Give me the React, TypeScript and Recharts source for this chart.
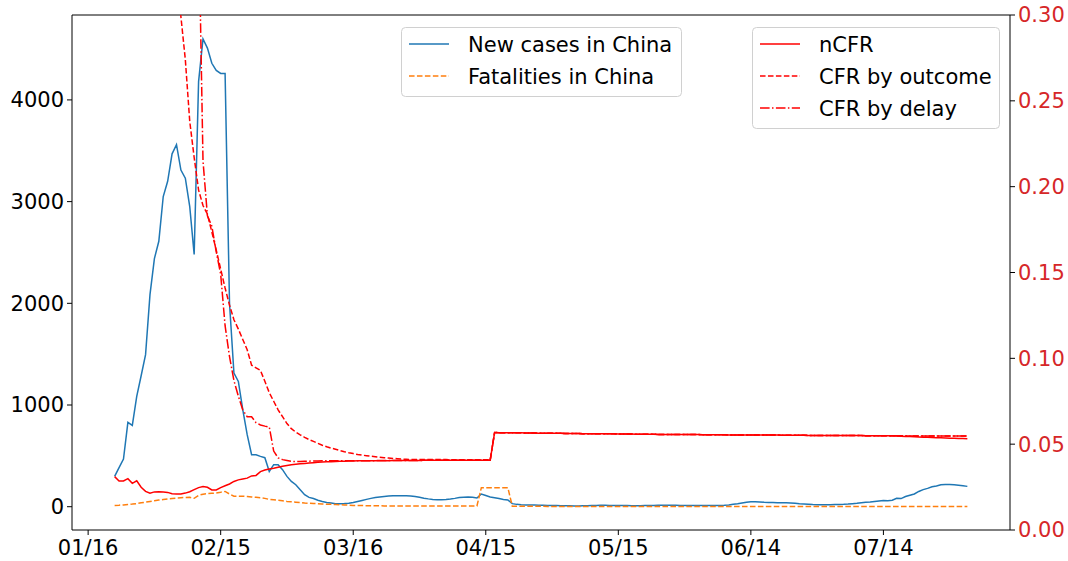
import { LineChart, Line, XAxis, YAxis, ReferenceLine } from "recharts";

const FONT = "'DejaVu Sans', sans-serif";
const FS = 21;

// x = days after 01/22 (first data point)
const xTickDays = [-6, 24, 54, 84, 114, 144, 174];
const xTickLabels = ["01/16", "02/15", "03/16", "04/15", "05/15", "06/14", "07/14"];
const leftTicks = [0, 1000, 2000, 3000, 4000];
const rightTicks = [0, 0.05, 0.1, 0.15, 0.2, 0.25, 0.3];

// New cases in China (daily, 01/22 .. 08/02)
const cases = [
  298, 385, 469, 829, 800, 1085, 1288, 1495, 2085, 2440,
  2610, 3050, 3200, 3470, 3560, 3310, 3230, 2950, 2480, 4180,
  4600, 4510, 4360, 4290, 4260, 4260, 2000, 1315, 1232, 954,
  708, 511, 511, 495, 482, 347, 413, 413, 364, 298,
  249, 216, 167, 118, 92, 80, 64, 52, 42, 36,
  30, 30, 32, 35, 42, 52, 62, 72, 82, 90,
  96, 101, 105, 108, 109, 109, 108, 106, 100, 92,
  84, 77, 72, 69, 69, 72, 76, 82, 90, 93,
  95, 92, 85, 125, 110, 95, 88, 80, 72, 66,
  30, 23, 20, 18, 17, 16, 15, 14, 13, 12,
  11, 10, 10, 9, 8, 8, 9, 10, 12, 13,
  14, 14, 13, 12, 12, 11, 11, 10, 10, 10,
  11, 12, 13, 14, 15, 15, 14, 14, 13, 13,
  12, 12, 12, 13, 13, 13, 13, 13, 14, 18,
  24, 29, 36, 43, 48, 49, 47, 44, 42, 41,
  40, 40, 39, 37, 34, 30, 27, 24, 21, 20,
  20, 20, 20, 21, 22, 23, 26, 30, 34, 39,
  43, 47, 52, 57, 62, 59, 63, 82, 80, 100,
  112, 125, 150, 168, 180, 196, 204, 216, 219, 219,
  215, 211, 206, 200,
];

// Fatalities in China
const deaths = [
  13, 15, 18, 22, 26, 31, 38, 45, 52, 59,
  65, 71, 77, 81, 85, 88, 91, 92, 83, 112,
  123, 129, 132, 135, 142, 150, 125, 104, 104, 103,
  100, 96, 92, 88, 82, 72, 68, 63, 58, 52,
  48, 45, 42, 36, 34, 32, 30, 27, 25, 23,
  21, 19, 17, 15, 13, 12, 11, 10, 10, 9,
  9, 8, 8, 8, 8, 8, 8, 8, 7, 7,
  7, 7, 7, 7, 7, 7, 7, 7, 7, 7,
  7, 7, 7, 187, 187, 187, 187, 187, 187, 187,
  5, 4, 4, 4, 4, 4, 4, 4, 3, 3,
  3, 3, 3, 3, 3, 3, 3, 3, 3, 3,
  3, 3, 3, 3, 3, 3, 3, 3, 3, 3,
  3, 3, 3, 3, 3, 3, 3, 3, 3, 3,
  3, 3, 3, 3, 3, 3, 3, 3, 3, 3,
  3, 3, 3, 3, 3, 3, 3, 3, 3, 3,
  3, 3, 3, 3, 3, 3, 3, 3, 3, 3,
  3, 3, 3, 3, 3, 3, 3, 3, 3, 3,
  3, 3, 3, 3, 3, 3, 3, 3, 3, 3,
  3, 3, 3, 3, 3, 3, 3, 3, 3, 3,
  3, 3, 3, 3,
];

// nCFR, 01/22 .. 04/17
const ncfrEarly = [
  0.0311, 0.0285, 0.0286, 0.0299, 0.0272, 0.0287, 0.0249, 0.0225, 0.0214, 0.0222,
  0.0223, 0.0221, 0.0219, 0.0211, 0.0209, 0.021, 0.0215, 0.0223, 0.0235, 0.0247,
  0.0253, 0.0249, 0.0233, 0.0233, 0.0247, 0.0258, 0.0268, 0.0283, 0.0292, 0.0297,
  0.0302, 0.0315, 0.0318, 0.034, 0.0349, 0.0355, 0.036, 0.0366, 0.0371, 0.0376,
  0.038, 0.0383, 0.0386, 0.0388, 0.039, 0.0392, 0.0394, 0.0396, 0.0397, 0.0398,
  0.0399, 0.04, 0.0401, 0.0402, 0.0402, 0.0403, 0.0403, 0.0403, 0.0404, 0.0404,
  0.0404, 0.0404, 0.0404, 0.0405, 0.0405, 0.0405, 0.0405, 0.0405, 0.0405, 0.0405,
  0.0406, 0.0406, 0.0406, 0.0406, 0.0406, 0.0406, 0.0406, 0.0406, 0.0406, 0.0406,
  0.0406, 0.0406, 0.0406, 0.0406, 0.0406, 0.0406,
];

// CFR by outcome, 01/22 .. 04/17 (early values run above the axis)
const outcomeEarly = [
  0.62, 0.64, 0.66, 0.66, 0.64, 0.62, 0.6, 0.57, 0.54, 0.5,
  0.47, 0.44, 0.41, 0.37, 0.33, 0.299, 0.274, 0.238, 0.217, 0.198,
  0.189, 0.184, 0.1736, 0.163, 0.152, 0.141, 0.131, 0.1225, 0.117, 0.111,
  0.105, 0.096, 0.0945, 0.093, 0.0866, 0.08, 0.075, 0.07, 0.066, 0.062,
  0.059, 0.057, 0.0554, 0.054, 0.0527, 0.0516, 0.0505, 0.0494, 0.0485, 0.0477,
  0.047, 0.0463, 0.0456, 0.045, 0.0445, 0.044, 0.0436, 0.0433, 0.043, 0.0427,
  0.0424, 0.0421, 0.0419, 0.0417, 0.0415, 0.0413, 0.0412, 0.0411, 0.041, 0.041,
  0.041, 0.041, 0.041, 0.041, 0.041, 0.041, 0.0409, 0.0409, 0.0409, 0.0409,
  0.0409, 0.0409, 0.0409, 0.0409, 0.0409, 0.0409,
];

// CFR by delay, 01/22 .. 04/17
const delayEarly = [
  null, null, null, null, null, null, null, null, null, null,
  null, null, null, null, null, null, null, null, null, 0.36,
  0.215, 0.183, 0.177, 0.162, 0.149, 0.119, 0.101, 0.087, 0.078, 0.07,
  0.066, 0.066, 0.0625, 0.0612, 0.0605, 0.06, 0.046, 0.042, 0.041, 0.0405,
  0.04, 0.0398, 0.0399, 0.04, 0.0401, 0.0402, 0.0402, 0.0403, 0.0403, 0.0404,
  0.0404, 0.0404, 0.0404, 0.0404, 0.0404, 0.0404, 0.0404, 0.0404, 0.0404, 0.0404,
  0.0405, 0.0405, 0.0405, 0.0405, 0.0405, 0.0405, 0.0405, 0.0405, 0.0405, 0.0405,
  0.0406, 0.0406, 0.0406, 0.0406, 0.0406, 0.0406, 0.0406, 0.0406, 0.0406, 0.0406,
  0.0406, 0.0406, 0.0406, 0.0406, 0.0406, 0.0406,
];

// all three CFR estimates after the 04/17 revision, 04/18 .. 07/16
const cfrPlateau = [
  0.0568, 0.0567, 0.0567, 0.0567, 0.0566, 0.0566, 0.0566, 0.0565, 0.0565, 0.0565,
  0.0564, 0.0564, 0.0564, 0.0563, 0.0563, 0.0563, 0.0562, 0.0562, 0.0562, 0.0562,
  0.0561, 0.0561, 0.0561, 0.0561, 0.056, 0.056, 0.056, 0.056, 0.0559, 0.0559,
  0.0559, 0.0559, 0.0558, 0.0558, 0.0558, 0.0558, 0.0558, 0.0557, 0.0557, 0.0557,
  0.0557, 0.0557, 0.0556, 0.0556, 0.0556, 0.0556, 0.0556, 0.0555, 0.0555, 0.0555,
  0.0555, 0.0555, 0.0555, 0.0554, 0.0554, 0.0554, 0.0554, 0.0554, 0.0554, 0.0553,
  0.0553, 0.0553, 0.0553, 0.0553, 0.0553, 0.0552, 0.0552, 0.0552, 0.0552, 0.0552,
  0.0552, 0.0551, 0.0551, 0.0551, 0.0551, 0.0551, 0.0551, 0.055, 0.055, 0.055,
  0.055, 0.055, 0.055, 0.055, 0.0549, 0.0549, 0.0549, 0.0549, 0.0549, 0.0549,
];

// 07/17 .. 08/02
const ncfrTail = [
  0.0548, 0.0547, 0.0546, 0.0545, 0.0544, 0.0543, 0.0542, 0.0541, 0.054, 0.0539,
  0.0538, 0.0537, 0.0536, 0.0535, 0.0534, 0.0533, 0.0533, 0.0532,
];
const cfrTail = [
  0.0549, 0.0549, 0.0549, 0.0548, 0.0548, 0.0548, 0.0548, 0.0548, 0.0548, 0.0548,
  0.0548, 0.0548, 0.0548, 0.0548, 0.0548, 0.0548, 0.0548, 0.0548,
];

const ncfr = [...ncfrEarly, ...cfrPlateau, ...ncfrTail];
const outcome = [...outcomeEarly, ...cfrPlateau, ...cfrTail];
const delay = [...delayEarly, ...cfrPlateau, ...cfrTail];

const rows = cases.map((c, d) => ({
  d,
  cases: c,
  deaths: deaths[d],
  ncfr: ncfr[d],
  outcome: outcome[d],
  delay: delay[d],
}));

const DASH = "5.55 2.4";
const DASHDOT = "9.6 2.4 1.5 2.4";

const legendLeft = [
  { label: "New cases in China", color: "#1f77b4", dash: undefined },
  { label: "Fatalities in China", color: "#ff7f0e", dash: DASH },
];
const legendRight = [
  { label: "nCFR", color: "#ff0000", dash: undefined },
  { label: "CFR by outcome", color: "#ff0000", dash: DASH },
  { label: "CFR by delay", color: "#ff0000", dash: DASHDOT },
];

type Entry = { label: string; color: string; dash?: string };

function LegendBox({ x, y, w, entries }: { x: number; y: number; w: number; entries: Entry[] }) {
  const h = entries.length * 32 + 5;
  return (
    <g>
      <rect x={x + 0.5} y={y + 0.5} width={w} height={h} rx={4} fill="rgba(255,255,255,0.8)" stroke="#d0d0d0" />
      {entries.map((e, i) => {
        const cy = y + 17 + i * 32;
        return (
          <g key={e.label}>
            <line x1={x + 8} x2={x + 48} y1={cy} y2={cy} stroke={e.color} strokeWidth={1.5} strokeDasharray={e.dash} />
            <text x={x + 67} y={cy + 7.7} fontSize={FS} fontFamily={FONT} fill="#000">
              {e.label}
            </text>
          </g>
        );
      })}
    </g>
  );
}

const tickStyle = { fontSize: FS, fontFamily: FONT, fill: "#000" };

export default function App() {
  return (
    <div style={{ position: "absolute", left: 0, top: 0, width: 1068, height: 561, background: "#fff" }}>
      <LineChart width={1068} height={561} data={rows} margin={{ top: 15, right: 0, bottom: 0, left: 0 }}>
        <XAxis
          dataKey="d"
          type="number"
          domain={[-9.65, 202.65]}
          allowDataOverflow
          ticks={xTickDays}
          tickFormatter={(v: number) => xTickLabels[xTickDays.indexOf(v)] ?? ""}
          height={31}
          tickSize={5}
          tickMargin={5}
          tick={tickStyle}
          stroke="#000"
          interval={0}
        />
        <YAxis
          yAxisId="left"
          orientation="left"
          domain={[-229, 4835]}
          allowDataOverflow
          ticks={leftTicks}
          width={72}
          tickSize={5}
          tickMargin={3}
          tick={tickStyle}
          stroke="#000"
          interval={0}
        />
        <YAxis
          yAxisId="right"
          orientation="right"
          domain={[0, 0.3]}
          allowDataOverflow
          ticks={rightTicks}
          tickFormatter={(v: number) => v.toFixed(2)}
          width={58}
          tickSize={5}
          tickMargin={3}
          tick={{ ...tickStyle, fill: "#d62728" }}
          stroke="#000"
          interval={0}
        />
        <ReferenceLine yAxisId="left" y={4835} stroke="#000" />
        <Line yAxisId="left" dataKey="cases" stroke="#1f77b4" strokeWidth={1.5} dot={false} isAnimationActive={false} />
        <Line yAxisId="left" dataKey="deaths" stroke="#ff7f0e" strokeWidth={1.5} strokeDasharray={DASH} dot={false} isAnimationActive={false} />
        <Line yAxisId="right" dataKey="ncfr" stroke="#ff0000" strokeWidth={1.5} dot={false} isAnimationActive={false} />
        <Line yAxisId="right" dataKey="outcome" stroke="#ff0000" strokeWidth={1.5} strokeDasharray={DASH} dot={false} isAnimationActive={false} />
        <Line yAxisId="right" dataKey="delay" stroke="#ff0000" strokeWidth={1.5} strokeDasharray={DASHDOT} dot={false} isAnimationActive={false} />
      </LineChart>
      <svg width={1068} height={561} style={{ position: "absolute", left: 0, top: 0, pointerEvents: "none" }}>
        <LegendBox x={401} y={27} w={280} entries={legendLeft} />
        <LegendBox x={752} y={27} w={247} entries={legendRight} />
      </svg>
    </div>
  );
}
